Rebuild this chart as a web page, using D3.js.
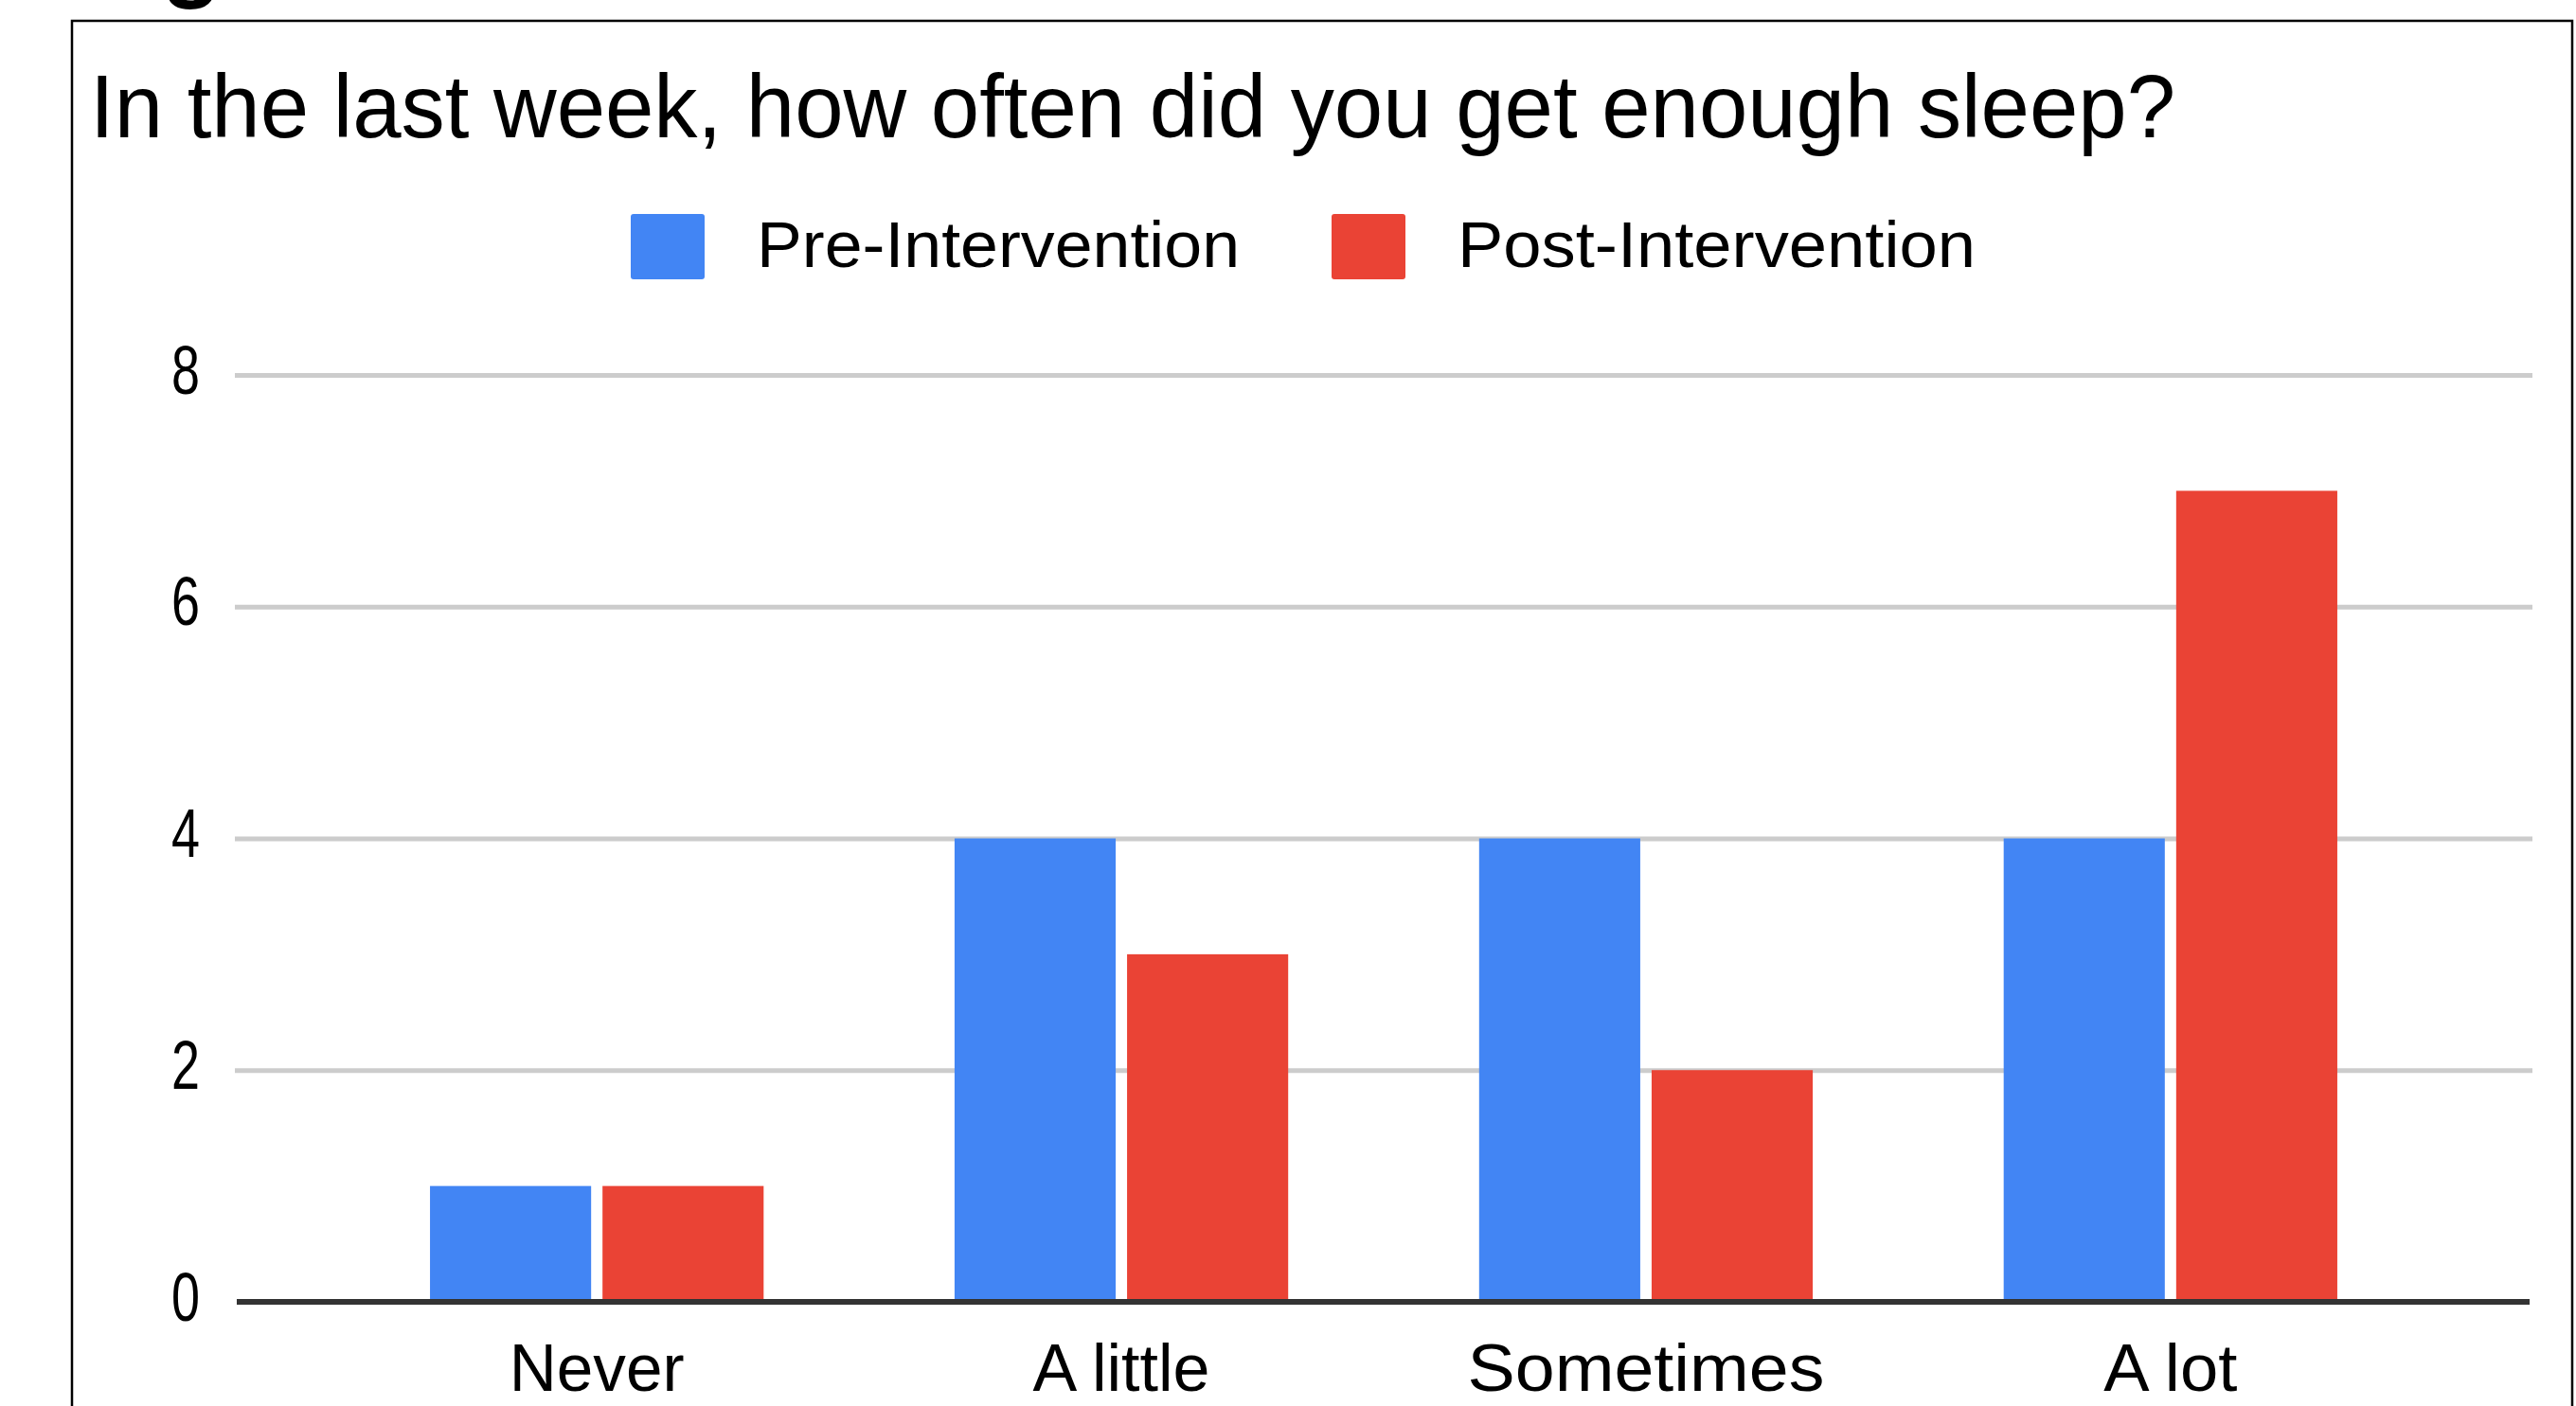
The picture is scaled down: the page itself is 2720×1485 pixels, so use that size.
<!DOCTYPE html>
<html>
<head>
<meta charset="utf-8">
<script src="https://cdn.jsdelivr.net/npm/d3@7"></script>
<style>
  html, body { margin: 0; padding: 0; background: #fff; }
  svg { display: block; }
  text { font-family: "Liberation Sans", Arial, sans-serif; fill: #000; }
</style>
</head>
<body>
<script>
// ---- data ----
const title = "In the last week, how often did you get enough sleep?";
const categories = ["Never", "A little", "Sometimes", "A lot"];
const seriesNames = ["Pre-Intervention", "Post-Intervention"];
const preValues = [1, 4, 4, 4];
const postValues = [1, 3, 2, 7];
const yTicks = [0, 2, 4, 6, 8];

// ---- styles / layout ----
const W = 2720, H = 1485;
const colors = ["#4285F4", "#EA4335"];
const catLabelWidths = { "Never": 185, "A little": 187, "Sometimes": 377, "A lot": 141 };
const legendLabelWidths = [510, 547];

const svg = d3.select("body").append("svg")
  .attr("width", W).attr("height", H);

svg.append("rect").attr("width", W).attr("height", H).attr("fill", "#fff");

// cropped caption fragment above the frame
svg.append("text")
  .attr("x", 78).attr("y", -12)
  .attr("font-size", 104).attr("font-weight", "bold")
  .text("Fig");

// frame
svg.append("rect")
  .attr("x", 76).attr("y", 22)
  .attr("width", 2640).attr("height", 1500)
  .attr("fill", "none").attr("stroke", "#000").attr("stroke-width", 2.5);

// title
svg.append("text")
  .attr("x", 95).attr("y", 145)
  .attr("font-size", 94)
  .attr("textLength", 2202).attr("lengthAdjust", "spacingAndGlyphs")
  .text(title);

// scales
const x0 = d3.scaleBand()
  .domain(categories)
  .range([248, 2674])
  .paddingInner(0.364)
  .paddingOuter(0.372);

const x1 = d3.scaleBand()
  .domain(seriesNames)
  .range([0, x0.bandwidth()])
  .paddingInner(0.066);

const y = d3.scaleLinear().domain([0, 8]).range([1375, 396]);

// gridlines
const grid = svg.append("g")
  .attr("transform", "translate(248,0)")
  .call(d3.axisLeft(y).tickValues(yTicks.filter(d => d !== 0)).tickSize(-(2674 - 248)).tickFormat(""));
grid.select(".domain").remove();
grid.selectAll(".tick line").attr("stroke", "#cccccc").attr("stroke-width", 5);

// y tick labels
const yAxis = svg.append("g")
  .attr("transform", "translate(211,0)")
  .call(d3.axisLeft(y).tickValues(yTicks).tickSize(0).tickPadding(0).tickFormat(d3.format("d")));
yAxis.select(".domain").remove();
yAxis.selectAll(".tick text")
  .attr("font-family", "Liberation Sans, Arial, sans-serif")
  .attr("font-size", 72)
  .attr("fill", "#000")
  .attr("dy", null)
  .attr("y", 19)
  .attr("text-anchor", "end")
  .attr("textLength", 30).attr("lengthAdjust", "spacingAndGlyphs");

// bars
const rows = categories.map((c, i) => ({ cat: c, vals: [preValues[i], postValues[i]] }));
const groups = svg.append("g").selectAll("g")
  .data(rows).join("g")
  .attr("transform", d => `translate(${x0(d.cat)},0)`);

groups.selectAll("rect")
  .data(d => d.vals.map((v, j) => ({ key: seriesNames[j], v, j })))
  .join("rect")
  .attr("x", d => x1(d.key))
  .attr("y", d => y(d.v))
  .attr("width", x1.bandwidth())
  .attr("height", d => y(0) - y(d.v))
  .attr("fill", d => colors[d.j]);

// baseline axis
const xAxis = svg.append("g")
  .attr("transform", `translate(0,${y(0)})`)
  .call(d3.axisBottom(x0).tickSize(0).tickPadding(0));
xAxis.select(".domain")
  .attr("d", `M250,0H2671`)
  .attr("stroke", "#333333").attr("stroke-width", 6);
xAxis.selectAll(".tick text")
  .attr("font-family", "Liberation Sans, Arial, sans-serif")
  .attr("font-size", 71)
  .attr("fill", "#000")
  .attr("dy", null)
  .attr("y", 94)
  .attr("textLength", d => catLabelWidths[d]).attr("lengthAdjust", "spacingAndGlyphs");

// legend
const legendX = [666, 1406];
const legend = svg.append("g").selectAll("g")
  .data(seriesNames).join("g")
  .attr("transform", (d, i) => `translate(${legendX[i]},226)`);
legend.append("rect")
  .attr("width", 78).attr("height", 69).attr("rx", 3)
  .attr("fill", (d, i) => colors[i]);
legend.append("text")
  .attr("x", 133).attr("y", 56)
  .attr("font-size", 69)
  .attr("fill", "#222")
  .attr("textLength", (d, i) => legendLabelWidths[i]).attr("lengthAdjust", "spacingAndGlyphs")
  .text(d => d);
</script>
</body>
</html>
